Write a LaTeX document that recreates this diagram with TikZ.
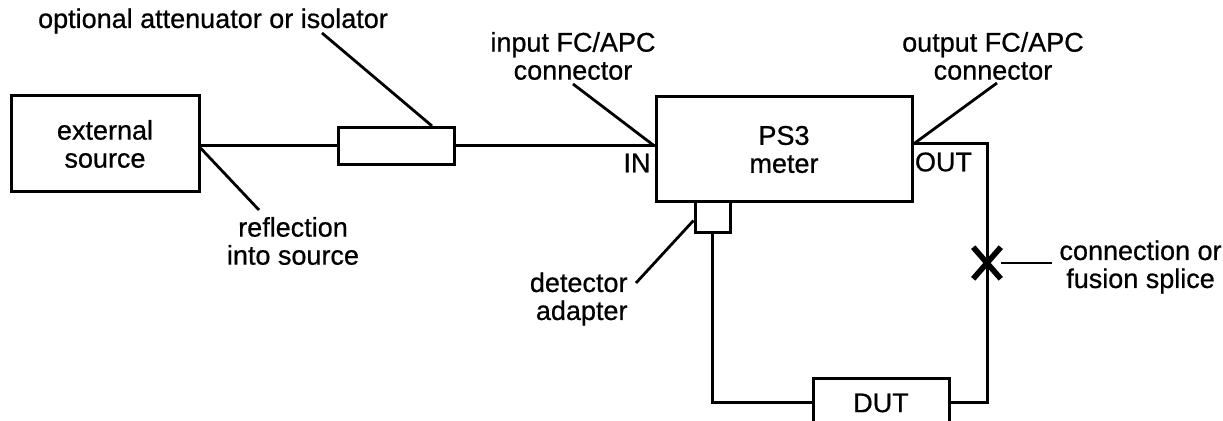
\documentclass[tikz,border=0pt]{standalone}
\usepackage{fontspec}
\setmainfont{Liberation Sans}[FakeBold=0.7]
\usetikzlibrary{shapes.misc}
\begin{document}
\begin{tikzpicture}[x=0.5pt,y=-0.5pt,
  line width=1.5pt,
  txt/.style={font=\fontsize{13.5}{14}\selectfont, inner sep=0pt, align=center},
  box/.style={draw, line width=1.5pt, inner sep=0pt, font=\fontsize{13.5}{14}\selectfont, align=center},
  lead/.style={line width=1.4pt}]
\clip (0,0) rectangle (1223,421);
\fill[white] (0,0) rectangle (1223,421);
% boxes
\node[box, minimum width=94pt, minimum height=48pt] (src) at (105,144) {external\\source};
\node[box, minimum width=58pt, minimum height=18.5pt] (att) at (396,146) {};
\node[box, minimum width=128pt, minimum height=52.5pt] (meter) at (784,149.5) {PS3\\meter};
\node[box, minimum width=17.5pt, minimum height=15.5pt] (adp) at (712.5,217.5) {};
\node[box, minimum width=68pt, minimum height=24pt] (dut) at (881,403) {DUT};
\node[draw, cross out, minimum width=11pt, minimum height=13pt, inner sep=0pt, line width=2.8pt] (spl) at (987,263) {};
% labels
\node[txt] (lopt) at (213,21) {optional attenuator or isolator};
\node[txt] (lref) at (293,241) {reflection\\into source};
\node[txt] (lin) at (573,56) {input FC/APC\\connector};
\node[txt] (lout) at (993,56) {output FC/APC\\connector};
\node[txt, anchor=east] (tin) at (652,163) {IN};
\node[txt] (tout) at (943.5,162) {OUT};
\node[txt, anchor=east, align=right] (ldet) at (629,299) {detector\\adapter};
\node[txt, anchor=west] (lspl) at (1058,267) {connection or\\fusion splice};
% coordinates
\coordinate (co) at (987,144);
\coordinate (optA) at (322,33);
\coordinate (refA) at (259,210);
\coordinate (inA) at (573,84);
\coordinate (outA) at (997,83);
\coordinate (detA) at (636,283);
\coordinate (splA) at (1052,263);
% fibre
\draw (src.east |- att.west) -- (att.west);
\draw (att.east) -- (meter.west |- att.east);
\draw (meter.east |- co) -- (co) -- (spl.center) -- (co |- dut.east) -- (dut.east);
\draw (adp.south) -- (adp.south |- dut.west) -- (dut.west);
% leaders
\draw[lead] (optA) -- ([xshift=18pt]att.north);
\draw[lead] ([yshift=-1pt]src.east |- att.west) -- (refA);
\draw[lead] (inA) -- (meter.west |- att.east);
\draw[lead] (outA) -- (meter.east |- co);
\draw[lead] (detA) -- ([yshift=-1.5pt]adp.west);
\draw[lead] (spl.east) -- (splA);
\end{tikzpicture}
\end{document}
